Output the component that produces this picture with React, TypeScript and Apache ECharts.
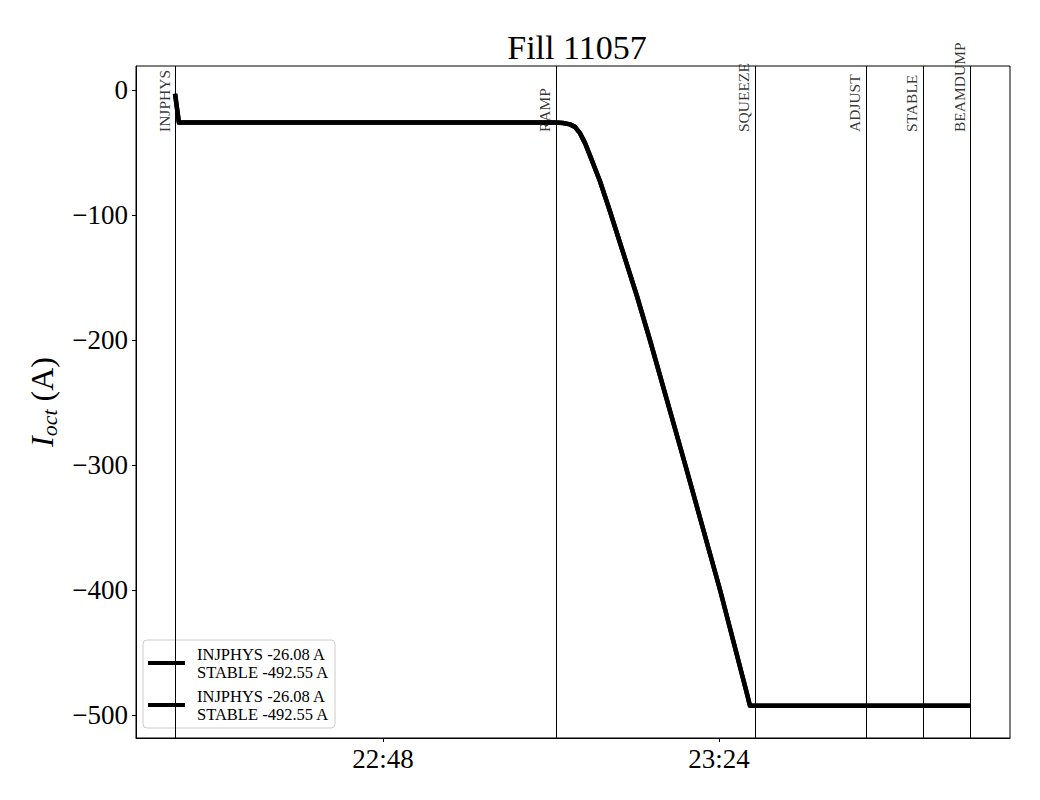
import React, { useEffect, useRef } from "react";
import * as echarts from "echarts";

const FONT = "Liberation Serif, DejaVu Serif, serif";

// current trace: time (HH:MM:SS) and octupole current (A)
const traceTimes = [
  "22:25:43", "22:26:08", "23:06:32", "23:07:17", "23:08:02", "23:08:34", "23:09:06",
  "23:09:39", "23:10:11", "23:11:15", "23:12:19", "23:13:23", "23:15:13", "23:16:36",
  "23:20:28", "23:24:07", "23:27:00", "23:27:19", "23:50:53",
];
const traceValues = [
  -3, -26.08, -26.08, -26.4, -27.5, -29.5, -34.5,
  -42.5, -52.5, -73, -97, -122, -165, -200,
  -302, -400, -483, -492.55, -492.55,
];

// beam mode transitions
const phaseNames = ["INJPHYS", "RAMP", "SQUEEZE", "ADJUST", "STABLE", "BEAMDUMP"];
const phaseTimes = ["22:25:43", "23:06:32", "23:27:51", "23:39:45", "23:45:51", "23:50:54"];

const xTickLabels = ["22:48", "23:24"];
const yTicks = [0, -100, -200, -300, -400, -500];
const legendText = "INJPHYS -26.08 A\nSTABLE -492.55 A";

const toMin = (s: string) => {
  const p = s.split(":").map(Number);
  return p[0] * 60 + p[1] + (p[2] || 0) / 60;
};
const fmtMin = (v: number) => {
  const h = Math.floor(v / 60);
  const m = Math.round(v - h * 60);
  return `${String(h).padStart(2, "0")}:${String(m).padStart(2, "0")}`;
};

export default function App() {
  const ref = useRef<HTMLDivElement>(null);
  useEffect(() => {
    if (!ref.current) return;
    const chart = echarts.init(ref.current, null, { renderer: "svg" });
    const data = traceTimes.map((t, i) => [toMin(t), traceValues[i]]);
    const xTicks = xTickLabels.map(toMin);
    const labelY = -33.6;
    const lineSeries = (name: string, extra: any = {}) => ({
      name,
      type: "line",
      data,
      showSymbol: false,
      symbol: "none",
      lineStyle: { color: "#000", width: 4.5, join: "round", cap: "butt" },
      itemStyle: { color: "#000" },
      z: 3,
      ...extra,
    });
    chart.setOption({
      animation: false,
      backgroundColor: "#fff",
      title: {
        text: "Fill 11057",
        left: 572,
        textAlign: "center",
        top: 25,
        textStyle: { fontFamily: FONT, fontSize: 34, fontWeight: "normal", color: "#000" },
      },
      grid: {
        left: 136, right: 30, top: 66, bottom: 62,
        show: true, borderColor: "#000", borderWidth: 1, backgroundColor: "transparent",
      },
      legend: {
        left: 143,
        top: 640,
        orient: "vertical",
        data: [{ name: "s1" }, { name: "s2" }],
        formatter: () => legendText,
        icon: "rect",
        itemWidth: 37,
        itemHeight: 4,
        itemGap: 6,
        padding: [5, 6, 5, 5],
        backgroundColor: "#fff",
        borderColor: "#cccccc",
        borderWidth: 1,
        borderRadius: 4,
        textStyle: { fontFamily: FONT, fontSize: 16.5, lineHeight: 18, color: "#000", padding: [0, 0, 0, 7] },
      },
      xAxis: {
        type: "value",
        min: toMin("22:21:32"),
        max: toMin("23:55:11"),
        splitLine: { show: false },
        axisLine: { show: true, onZero: false, lineStyle: { color: "#000" } },
        axisTick: { show: true, customValues: xTicks, length: 4, lineStyle: { color: "#000" } },
        axisLabel: {
          customValues: xTicks,
          formatter: (v: number) => fmtMin(v),
          fontFamily: FONT, fontSize: 27, color: "#000", margin: 7,
        },
      },
      yAxis: {
        type: "value",
        min: -518.4,
        max: 19.2,
        splitLine: { show: false },
        axisLine: { show: true, lineStyle: { color: "#000" } },
        axisTick: { show: true, customValues: yTicks, length: 4, lineStyle: { color: "#000" } },
        axisLabel: {
          customValues: yTicks,
          formatter: (v: number) => (v === 0 ? "0" : (v < 0 ? "\u2212" : "") + Math.abs(v)),
          fontFamily: FONT, fontSize: 27, color: "#000", margin: 8,
        },
        name: "{i|I}{s|oct}{n| (A)}",
        nameLocation: "middle",
        nameRotate: 90,
        nameGap: 76,
        nameTextStyle: {
          fontFamily: FONT, color: "#000",
          rich: {
            i: { fontFamily: FONT, fontSize: 32, fontStyle: "italic", color: "#000" },
            s: { fontFamily: FONT, fontSize: 22, fontStyle: "italic", color: "#000", padding: [14, 0, 0, 0] },
            n: { fontFamily: FONT, fontSize: 32, color: "#000" },
          },
        },
      },
      series: [
        lineSeries("s1", {
          markLine: {
            silent: true,
            symbol: "none",
            label: { show: false },
            lineStyle: { color: "#000", width: 1, type: "solid" },
            data: phaseTimes.map((t) => ({ xAxis: toMin(t) })),
          },
        }),
        lineSeries("s2"),
        {
          name: "phases",
          type: "scatter",
          symbolSize: 0,
          data: phaseTimes.map((t, i) => ({ value: [toMin(t), labelY], name: phaseNames[i] })),
          label: {
            show: true,
            position: [-3, 0],
            formatter: (p: any) => p.name,
            rotate: 90,
            align: "left",
            verticalAlign: "bottom",
            fontFamily: FONT,
            fontSize: 15.5,
            color: "#000",
          },
          labelLayout: { hideOverlap: false },
          z: 5,
        },
      ],
    });
    return () => chart.dispose();
  }, []);
  return <div ref={ref} style={{ width: 1040, height: 800, margin: -8 }} />;
}
